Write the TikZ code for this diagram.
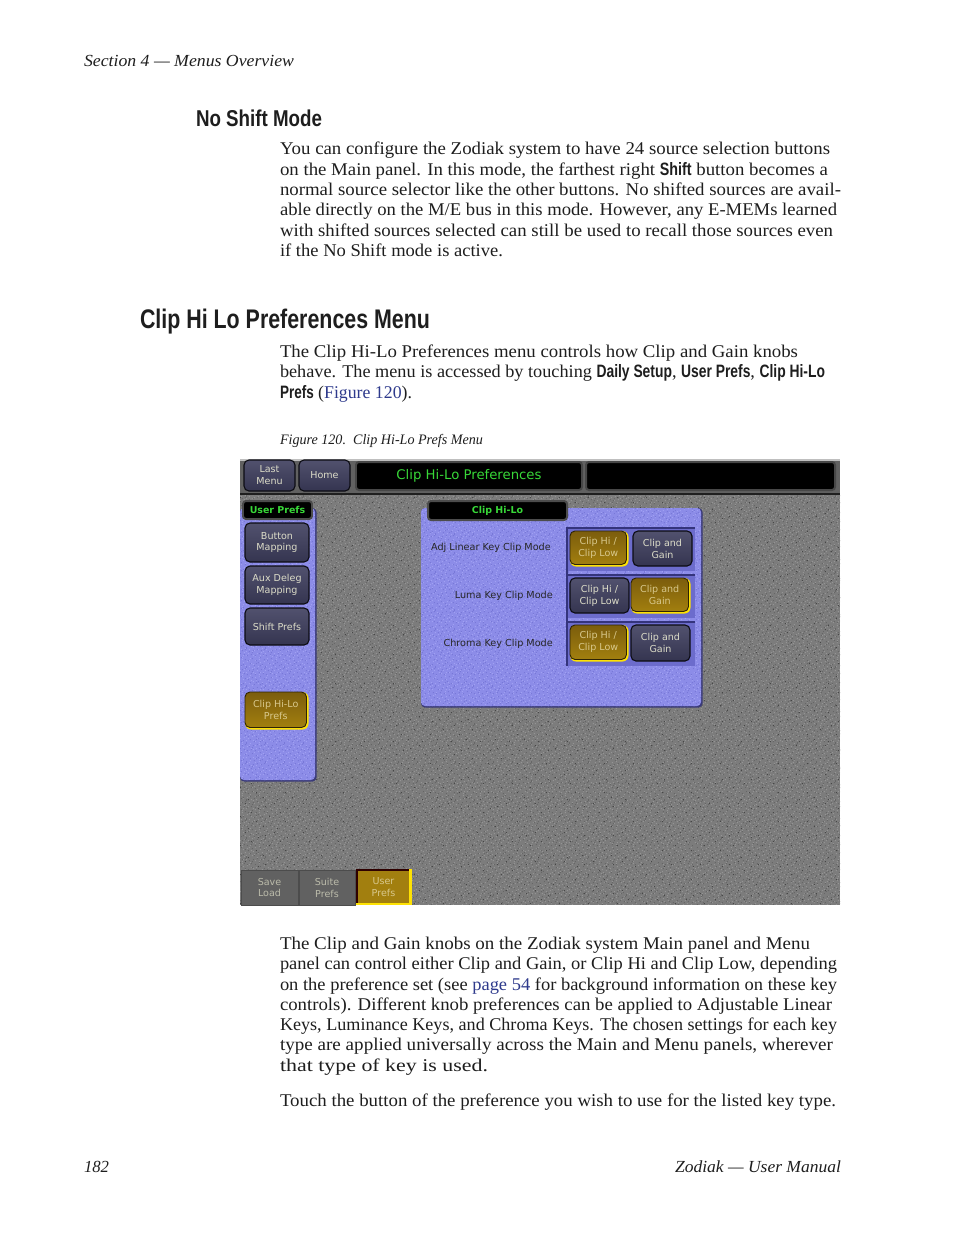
\documentclass[tikz,border=0pt]{standalone}
\usepackage{fontspec}
\usepackage{graphicx}
\usetikzlibrary{patterns}
\setmainfont{Liberation Serif}
\newfontfamily\cond[FakeStretch=0.76]{Liberation Sans}
\newfontfamily\ui{DejaVu Sans}
\definecolor{linkblue}{HTML}{2E3A8C}
\definecolor{textk}{HTML}{1E1E1E}
\definecolor{gbase}{HTML}{7C7C7C}
\definecolor{pbase}{HTML}{8C8CE8}
\definecolor{navy}{HTML}{3E3E5E}
\definecolor{gold}{HTML}{9A7410}
\definecolor{btxt}{HTML}{DCDCC8}
\definecolor{goldtxt}{HTML}{D8C88C}
\definecolor{lime}{HTML}{38D838}
\definecolor{panelpale}{HTML}{A0A0F2}
\definecolor{paneldim}{HTML}{7878D8}
\definecolor{paneledge}{HTML}{3A3A78}
\definecolor{groupbg}{HTML}{6C6CCC}
\definecolor{groupdark}{HTML}{34347C}
\newcommand{\dotp}[2]{\pgfpathrectangle{\pgfqpoint{#1pt}{#2pt}}{\pgfqpoint{1pt}{1pt}}}
\pgfdeclarepatternformonly{noisea}{\pgfqpoint{0pt}{0pt}}{\pgfqpoint{17pt}{17pt}}{\pgfqpoint{17pt}{17pt}}{%
  \dotp{1}{2}\dotp{5}{1}\dotp{9}{3}\dotp{13}{0}\dotp{3}{5}\dotp{7}{6}\dotp{11}{5}\dotp{15}{7}\dotp{0}{8}\dotp{4}{9}\dotp{8}{10}\dotp{12}{9}\dotp{2}{12}\dotp{6}{13}\dotp{10}{14}\dotp{14}{12}\dotp{1}{15}\dotp{5}{16}\dotp{12}{15}\dotp{16}{3}\dotp{16}{11}\dotp{9}{7}\dotp{6}{3}%
  \pgfusepath{fill}}
\pgfdeclarepatternformonly{noiseb}{\pgfqpoint{0pt}{0pt}}{\pgfqpoint{19pt}{19pt}}{\pgfqpoint{19pt}{19pt}}{%
  \dotp{0}{0}\dotp{4}{3}\dotp{8}{1}\dotp{12}{4}\dotp{16}{2}\dotp{2}{6}\dotp{6}{8}\dotp{10}{6}\dotp{14}{9}\dotp{18}{7}\dotp{1}{11}\dotp{5}{12}\dotp{9}{11}\dotp{13}{13}\dotp{17}{12}\dotp{3}{15}\dotp{7}{16}\dotp{11}{17}\dotp{15}{16}\dotp{18}{17}\dotp{0}{18}\dotp{10}{3}\dotp{6}{14}\dotp{14}{1}%
  \pgfusepath{fill}}
\pgfdeclarepatternformonly{noisec}{\pgfqpoint{0pt}{0pt}}{\pgfqpoint{29pt}{29pt}}{\pgfqpoint{29pt}{29pt}}{%
  \dotp{3}{4}\dotp{17}{2}\dotp{25}{9}\dotp{9}{14}\dotp{20}{18}\dotp{5}{24}\dotp{14}{27}\dotp{27}{22}%
  \pgfusepath{fill}}
\newcommand{\sbf}[1]{{\cond\bfseries #1}}
\newcommand{\lnk}[1]{\textcolor{linkblue}{#1}}
% name, x, baseline, right end, text
\newcommand{\fitline}[5]{\node[bodyline] (#1) at (#2,#3) {\resizebox{\dimexpr #4bp - #2bp\relax}{\height}{#5}};}
% name, x0,y0,x1,y1, style, text
\newcommand{\btn}[7]{%
  \node[#6, minimum width={(#4-#2)*1bp}, minimum height={(#5-#3)*1bp}] (#1) at ({(#2+#4)/2},{(#3+#5)/2}) {#7};}
\newcommand{\goldbtn}[6]{%
  \fill[yellow!85!orange, rounded corners=6] (#2,#3) rectangle (#4+2,#5+2);
  \btn{#1}{#2}{#3}{#4}{#5}{btngold}{#6}}
\tikzset{
  bodyline/.style={anchor=base west, inner sep=0pt, outer sep=0pt, font=\fontsize{18}{20}\selectfont, text=textk},
  uifont/.style={font=\ui\fontsize{9.6}{12}\selectfont},
  btnnavy/.style={draw=black!80!navy, line width=1.1, rounded corners=5, top color=navy!90!white, bottom color=navy!85!black,
     text=btxt, uifont, align=center, inner sep=0pt},
  btngold/.style={draw=black!70!gold, line width=.9, rounded corners=5, top color=gold!80!black, bottom color=gold!92!yellow,
     text=goldtxt, uifont, align=center, inner sep=0pt},
  tabgray/.style={draw=black!70, line width=.8, fill=black!62, text=btxt!85!black, uifont, align=center, inner sep=0pt},
  tabgold/.style={fill=gold!92!yellow, text=goldtxt, uifont, align=center, inner sep=0pt},
  titlebox/.style={draw=black!72, line width=2, rounded corners=3, fill=black, text=lime, font=\ui\fontsize{13.3}{15}\selectfont, inner sep=0pt},
  tabbox/.style={draw=black!70, line width=2, rounded corners=3, fill=black, text=lime, font=\ui\bfseries\fontsize{9.5}{11}\selectfont, inner sep=0pt},
  rowlabel/.style={anchor=east, inner sep=0pt, text=black!85, font=\ui\fontsize{9.7}{11}\selectfont},
  panel/.style={fill=pbase, rounded corners=4},
  panelshade/.style={fill=paneledge, rounded corners=4},
  panelpatternlight/.style={pattern=noisea, pattern color=panelpale, rounded corners=4},
  panelpatterndark/.style={pattern=noiseb, pattern color=paneldim, rounded corners=4},
  grouprule/.style={fill=groupdark},
  groupfill/.style={fill=groupbg}
}
\begin{document}
\begin{tikzpicture}[x=1bp,y=-1bp]
\useasboundingbox (0,0) rectangle (954,1235);
\fill[white] (0,0) rectangle (954,1235);

% --- page text ---
\node[bodyline, font=\itshape\fontsize{17}{20}\selectfont] (hdr) at (84,66) {\resizebox{210bp}{\height}{Section 4 — Menus Overview}};
\node[bodyline, font=\cond\bfseries\fontsize{23}{26}\selectfont] (h1) at (196,126) {\resizebox{126bp}{\height}{No Shift Mode}};
\fitline{a1}{280}{154.5}{830}{You can configure the Zodiak system to have 24 source selection buttons}
\fitline{a2}{280}{175}{828}{on the Main panel. In this mode, the farthest right \sbf{Shift} button becomes a}
\fitline{a3}{280}{195}{841}{normal source selector like the other buttons. No shifted sources are avail-}
\fitline{a4}{280}{215}{837}{able directly on the M/E bus in this mode. However, any E-MEMs learned}
\fitline{a5}{280}{236}{833}{with shifted sources selected can still be used to recall those sources even}
\fitline{a6}{280}{256}{503}{if the No Shift mode is active.}

\node[bodyline, font=\cond\bfseries\fontsize{27}{30}\selectfont] (h2) at (140,328) {\resizebox{290bp}{\height}{Clip Hi Lo Preferences Menu}};
\fitline{b1}{280}{357}{798}{The Clip Hi-Lo Preferences menu controls how Clip and Gain knobs}
\fitline{b2}{280}{377}{825}{behave. The menu is accessed by touching \sbf{Daily Setup}, \sbf{User Prefs}, \sbf{Clip Hi-Lo}}
\fitline{b3}{280}{398}{412}{\sbf{Prefs} (\lnk{Figure 120}).}
\node[bodyline, font=\itshape\fontsize{14.5}{17}\selectfont] (cap) at (280,444) {\resizebox{203bp}{\height}{Figure 120.\ \ Clip Hi-Lo Prefs Menu}};

\fitline{c1}{280}{949}{810}{The Clip and Gain knobs on the Zodiak system Main panel and Menu}
\fitline{c2}{280}{969}{837}{panel can control either Clip and Gain, or Clip Hi and Clip Low, depending}
\fitline{c3}{280}{990}{837}{on the preference set (see \lnk{page 54} for background information on these key}
\fitline{c4}{280}{1010}{832}{controls). Different knob preferences can be applied to Adjustable Linear}
\fitline{c5}{280}{1030}{837}{Keys, Luminance Keys, and Chroma Keys. The chosen settings for each key}
\fitline{c6}{280}{1050}{833}{type are applied universally across the Main and Menu panels, wherever}
\fitline{c7}{280}{1071}{488}{that type of key is used.}
\fitline{d1}{280}{1106}{836}{Touch the button of the preference you wish to use for the listed key type.}

\node[bodyline, font=\itshape\fontsize{17}{20}\selectfont] (pg) at (84,1172) {\resizebox{25bp}{\height}{182}};
\node[bodyline, font=\itshape\fontsize{17}{20}\selectfont] (ftr) at (675,1172) {\resizebox{166bp}{\height}{Zodiak — User Manual}};

% --- screenshot background ---
\fill[gbase] (240,459) rectangle (840,905);
\fill[pattern=noisea, pattern color=black!42] (240,495) rectangle (840,904.5);
\fill[pattern=noiseb, pattern color=black!60] (240,495) rectangle (840,904.5);
\fill[pattern=noisec, pattern color=black!72] (240,495) rectangle (840,904.5);
% top bar
\fill[black!62] (240,459) rectangle (840,494);
\fill[black!25] (240,459) rectangle (840,461);
\fill[black!88] (240,493) rectangle (840,495);

% --- left panel ---
\fill[panelshade] (240,508) rectangle (316.5,781.5);
\fill[panel] (240,508) rectangle (315,780);
\fill[panelpatternlight] (240,508) rectangle (315,780);
\fill[panelpatterndark] (240,508) rectangle (315,780);

% --- right panel ---
\fill[panelshade] (421,508) rectangle (702.5,707.5);
\fill[panel] (421,508) rectangle (701,706);
\fill[panelpatternlight] (421,508) rectangle (701,706);
\fill[panelpatterndark] (421,508) rectangle (701,706);

% group frames
\fill[groupfill] (566,527) rectangle (695,571);
\fill[groupfill] (566,574) rectangle (695,618);
\fill[groupfill] (566,622) rectangle (695,666);
\fill[grouprule] (566,527) rectangle (695,529);
\fill[grouprule] (566,574) rectangle (695,576);
\fill[grouprule] (566,621) rectangle (695,623);
\fill[grouprule] (566,527) rectangle (568,666);

% --- header controls ---
\btn{lastmenu}{244}{460}{295}{491}{btnnavy}{Last\\Menu}
\btn{home}{299}{460}{350}{491}{btnnavy}{Home}
\btn{title}{356}{462}{582}{490}{titlebox}{Clip Hi-Lo Preferences}
\btn{titleb}{586}{462}{835}{490}{titlebox}{}

% --- left column ---
\btn{userprefs}{243}{501}{312}{519}{tabbox}{User Prefs}
\btn{bmap}{245}{523}{309}{562}{btnnavy}{Button\\Mapping}
\btn{aux}{245}{566}{309}{604}{btnnavy}{Aux Deleg\\Mapping}
\btn{shift}{245}{608}{309}{645}{btnnavy}{Shift Prefs}
\goldbtn{clipprefs}{245}{692}{306.5}{727.5}{Clip Hi-Lo\\Prefs}

% --- right panel contents ---
\btn{cliptab}{428}{501}{567}{520}{tabbox}{Clip Hi-Lo}
\node[rowlabel] (l1) at (551,548) {Adj Linear Key Clip Mode};
\node[rowlabel] (l2) at (553,596) {Luma Key Clip Mode};
\node[rowlabel] (l3) at (553,644) {Chroma Key Clip Mode};
\goldbtn{r1a}{570}{531}{626.5}{564.5}{Clip Hi /\\Clip Low}
\btn{r1b}{633}{531}{692}{566}{btnnavy}{Clip and\\Gain}
\btn{r2a}{570}{578}{629}{613}{btnnavy}{Clip Hi /\\Clip Low}
\goldbtn{r2b}{631}{578}{688.5}{611.5}{Clip and\\Gain}
\goldbtn{r3a}{570}{625}{626.5}{659.5}{Clip Hi /\\Clip Low}
\btn{r3b}{631}{625}{690}{661}{btnnavy}{Clip and\\Gain}

% --- bottom tabs ---
\btn{save}{241}{870}{298}{905}{tabgray}{Save\\Load}
\btn{suite}{299}{870}{355}{905}{tabgray}{Suite\\Prefs}
\fill[yellow!85!orange] (356,869) rectangle (412,905);
\fill[black!55!red!40!black] (356,869) rectangle (409,903);
\btn{user}{358}{871}{409}{903}{tabgold}{User\\Prefs}
\end{tikzpicture}
\end{document}
